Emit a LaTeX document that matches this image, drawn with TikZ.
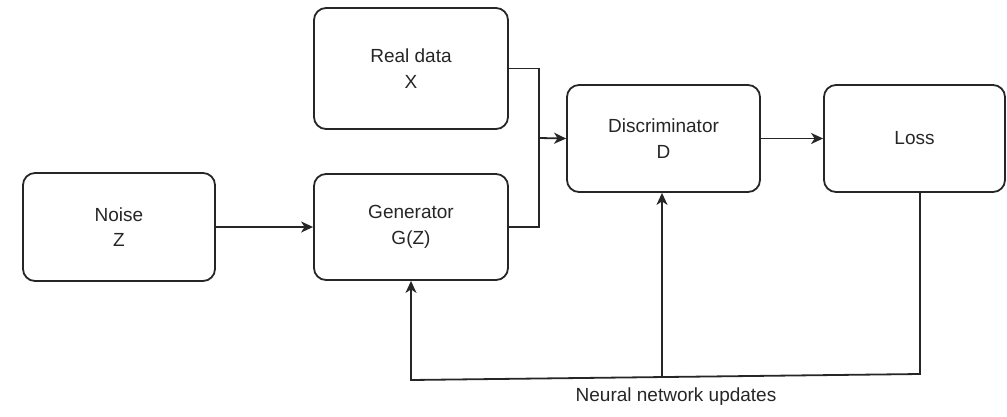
\documentclass[tikz,border=0pt]{standalone}
\usepackage{fontspec}
\setmainfont{Liberation Sans}
\usetikzlibrary{arrows.meta}
\begin{document}
\begin{tikzpicture}[x=1pt,y=-1pt,
  box/.style={draw=black!85, line width=1.8pt, rounded corners=12pt, align=center,
    font=\fontsize{19}{25.5}\selectfont, inner sep=0pt, text=black!85},
  conn/.style={draw=black!85, line width=1.8pt},
  arr/.style={conn, -{Stealth[length=12pt,width=11pt,inset=3.5pt]}},
  lbl/.style={font=\fontsize{19}{25}\selectfont, inner sep=0pt, text=black!85}]
\useasboundingbox (0,0) rectangle (1007,416);
\node[box, minimum width=192pt, minimum height=108pt] (noise) at (119,227) {Noise\\Z};
\node[box, minimum width=194pt, minimum height=121pt] (real) at (411,68.5) {Real data\\X};
\node[box, minimum width=194pt, minimum height=106pt] (gen) at (411,227) {Generator\\G(Z)};
\node[box, minimum width=193pt, minimum height=107pt] (disc) at (663.5,138.5) {Discriminator\\D};
\node[box, minimum width=181pt, minimum height=107pt] (loss) at (914.5,138.5) {Loss};
\node[lbl] (upd) at (676,397) {Neural network updates};
\coordinate (j) at (539,138);
\coordinate (lb) at (920,374);
\coordinate (gb) at (411,380);
\coordinate (db) at (662,377);
\draw[arr] (noise.east) -- (gen.west);
\draw[conn] (real.east) -| (j);
\draw[conn] (gen.east) -| (j);
\draw[arr] (j) -- (disc.west);
\draw[arr] (disc.east) -- (loss.west);
\draw[arr] (loss.south -| lb) -- (lb) -- (gb) -- (gen.south);
\draw[arr] (db) -- (disc.south -| db);
\end{tikzpicture}
\end{document}
